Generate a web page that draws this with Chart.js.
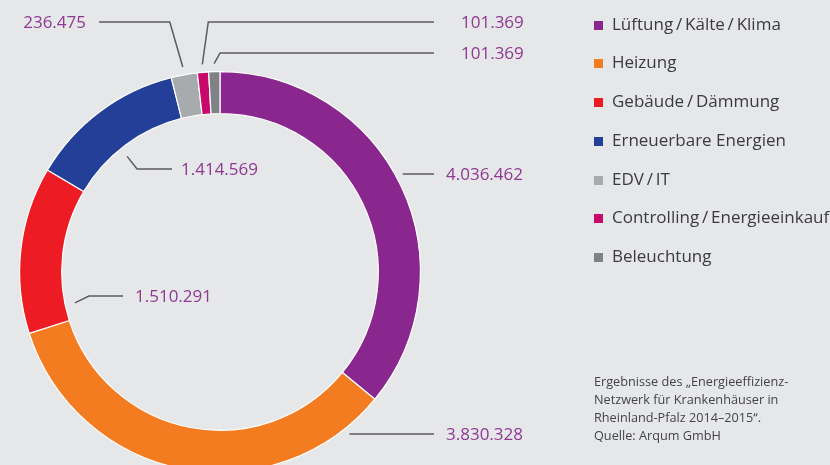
<!DOCTYPE html>
<html><head><meta charset="utf-8">
<script src="https://cdn.jsdelivr.net/npm/chart.js@4/dist/chart.umd.min.js"></script>
<style>
html,body{margin:0;padding:0;background:#e6e7e9;overflow:hidden;}
#wrap{position:relative;width:830px;height:465px;overflow:hidden;}
#c{position:absolute;left:0;top:0;}
#legend{position:absolute;left:594px;top:0;font-family:"Open Sans",sans-serif;font-size:17px;color:#3b3b3d;}
.li{position:absolute;left:0;white-space:nowrap;height:20px;line-height:20px;}
.sw{position:absolute;left:0;top:6px;width:9px;height:9px;}
.lt{position:absolute;left:18px;top:-1px;}
#note{position:absolute;left:594px;top:372px;font-family:"Open Sans",sans-serif;font-size:12.7px;line-height:18px;color:#444446;white-space:nowrap;}
</style></head>
<body><div id="wrap"><canvas id="c" width="830" height="482"></canvas><div id="legend"></div>
<div id="note">Ergebnisse des „Energieeffizienz-<br>Netzwerk für Krankenhäuser in<br>Rheinland-Pfalz 2014–2015“.<br>Quelle: Arqum GmbH</div></div>
<script>
const categories = ["Lüftung/Kälte/Klima","Heizung","Gebäude/Dämmung","Erneuerbare Energien","EDV/IT","Controlling/Energieeinkauf","Beleuchtung"];
const legendLabels = ["Lüftung\u2009/\u2009Kälte\u2009/\u2009Klima","Heizung","Gebäude\u2009/\u2009Dämmung","Erneuerbare Energien","EDV\u2009/\u2009IT","Controlling\u2009/\u2009Energieeinkauf","Beleuchtung"];
const values = [4036462, 3830328, 1510291, 1414569, 236475, 101369, 101369];
const valueLabels = ["4.036.462","3.830.328","1.510.291","1.414.569","236.475","101.369","101.369"];
const colors = ["#8a278f","#f47c20","#ed1c24","#233f98","#a7abae","#c9086b","#7f8184"];

// label layout (positions of text & leader style)
const labelLayout = [
  {mode:"h", tx:446, ty:174, align:"left", lineEnd:434},
  {mode:"h", tx:446, ty:434, align:"left", lineEnd:434},
  {mode:"in", t:0.12, tx:135, ty:296, align:"left", dx:14, lineEnd:123},
  {mode:"in", t:0.455, tx:181, ty:169, align:"left", dx:10, lineEnd:172},
  {mode:"out", t:0.5, tx:86, ty:22, align:"right", dx:-13, lineEnd:99},
  {mode:"out", t:0.5, tx:461, ty:22, align:"left", dx:6, lineEnd:434},
  {mode:"out", t:0.5, tx:461, ty:53, align:"left", dx:6, lineEnd:434}
];

const leg = document.getElementById("legend");
legendLabels.forEach((l,i)=>{
  const d=document.createElement("div");d.className="li";d.style.top=(14.5+i*38.75)+"px";
  d.innerHTML='<span class="sw" style="background:'+colors[i]+'"></span><span class="lt">'+l+'</span>';
  leg.appendChild(d);
});

const labelPlugin = {
  id:"leaders",
  afterDraw(chart){
    const ctx=chart.ctx;
    const arcs=chart.getDatasetMeta(0).data;
    ctx.save();
    ctx.font='17px "Open Sans", sans-serif';
    ctx.textBaseline="middle";
    arcs.forEach((arc,i)=>{
      const L=labelLayout[i];
      const p=arc.getProps(["x","y","startAngle","endAngle","innerRadius","outerRadius"],true);
      let pts=[];
      if(L.mode==="h"){
        const r=p.outerRadius+7;
        const dy=L.ty-p.y;
        const ax=p.x+Math.sqrt(Math.max(r*r-dy*dy,0));
        pts=[[ax,L.ty],[L.lineEnd,L.ty]];
      } else {
        const a=p.startAngle+(p.endAngle-p.startAngle)*L.t;
        const r=L.mode==="in"?p.innerRadius-10:p.outerRadius+8;
        const ax=p.x+Math.cos(a)*r, ay=p.y+Math.sin(a)*r;
        pts=[[ax,ay],[ax+L.dx,L.ty],[L.lineEnd,L.ty]];
      }
      ctx.strokeStyle="#5c5c5e";ctx.lineWidth=1.5;
      ctx.beginPath();ctx.moveTo(pts[0][0],pts[0][1]);
      for(let k=1;k<pts.length;k++)ctx.lineTo(pts[k][0],pts[k][1]);
      ctx.stroke();
      ctx.fillStyle="#8e3894";ctx.textAlign=L.align;
      ctx.fillText(valueLabels[i],L.tx,L.ty+1);
    });
    ctx.restore();
  }
};

new Chart(document.getElementById("c"),{
  type:"doughnut",
  data:{labels:categories,datasets:[{data:values,backgroundColor:colors,borderColor:"#ffffff",borderWidth:1.2}]},
  options:{
    responsive:false,animation:false,cutout:"79%",
    layout:{padding:{left:19,right:409,top:71,bottom:9}},
    plugins:{legend:{display:false},tooltip:{enabled:false}}
  },
  plugins:[labelPlugin]
});
</script></body></html>
